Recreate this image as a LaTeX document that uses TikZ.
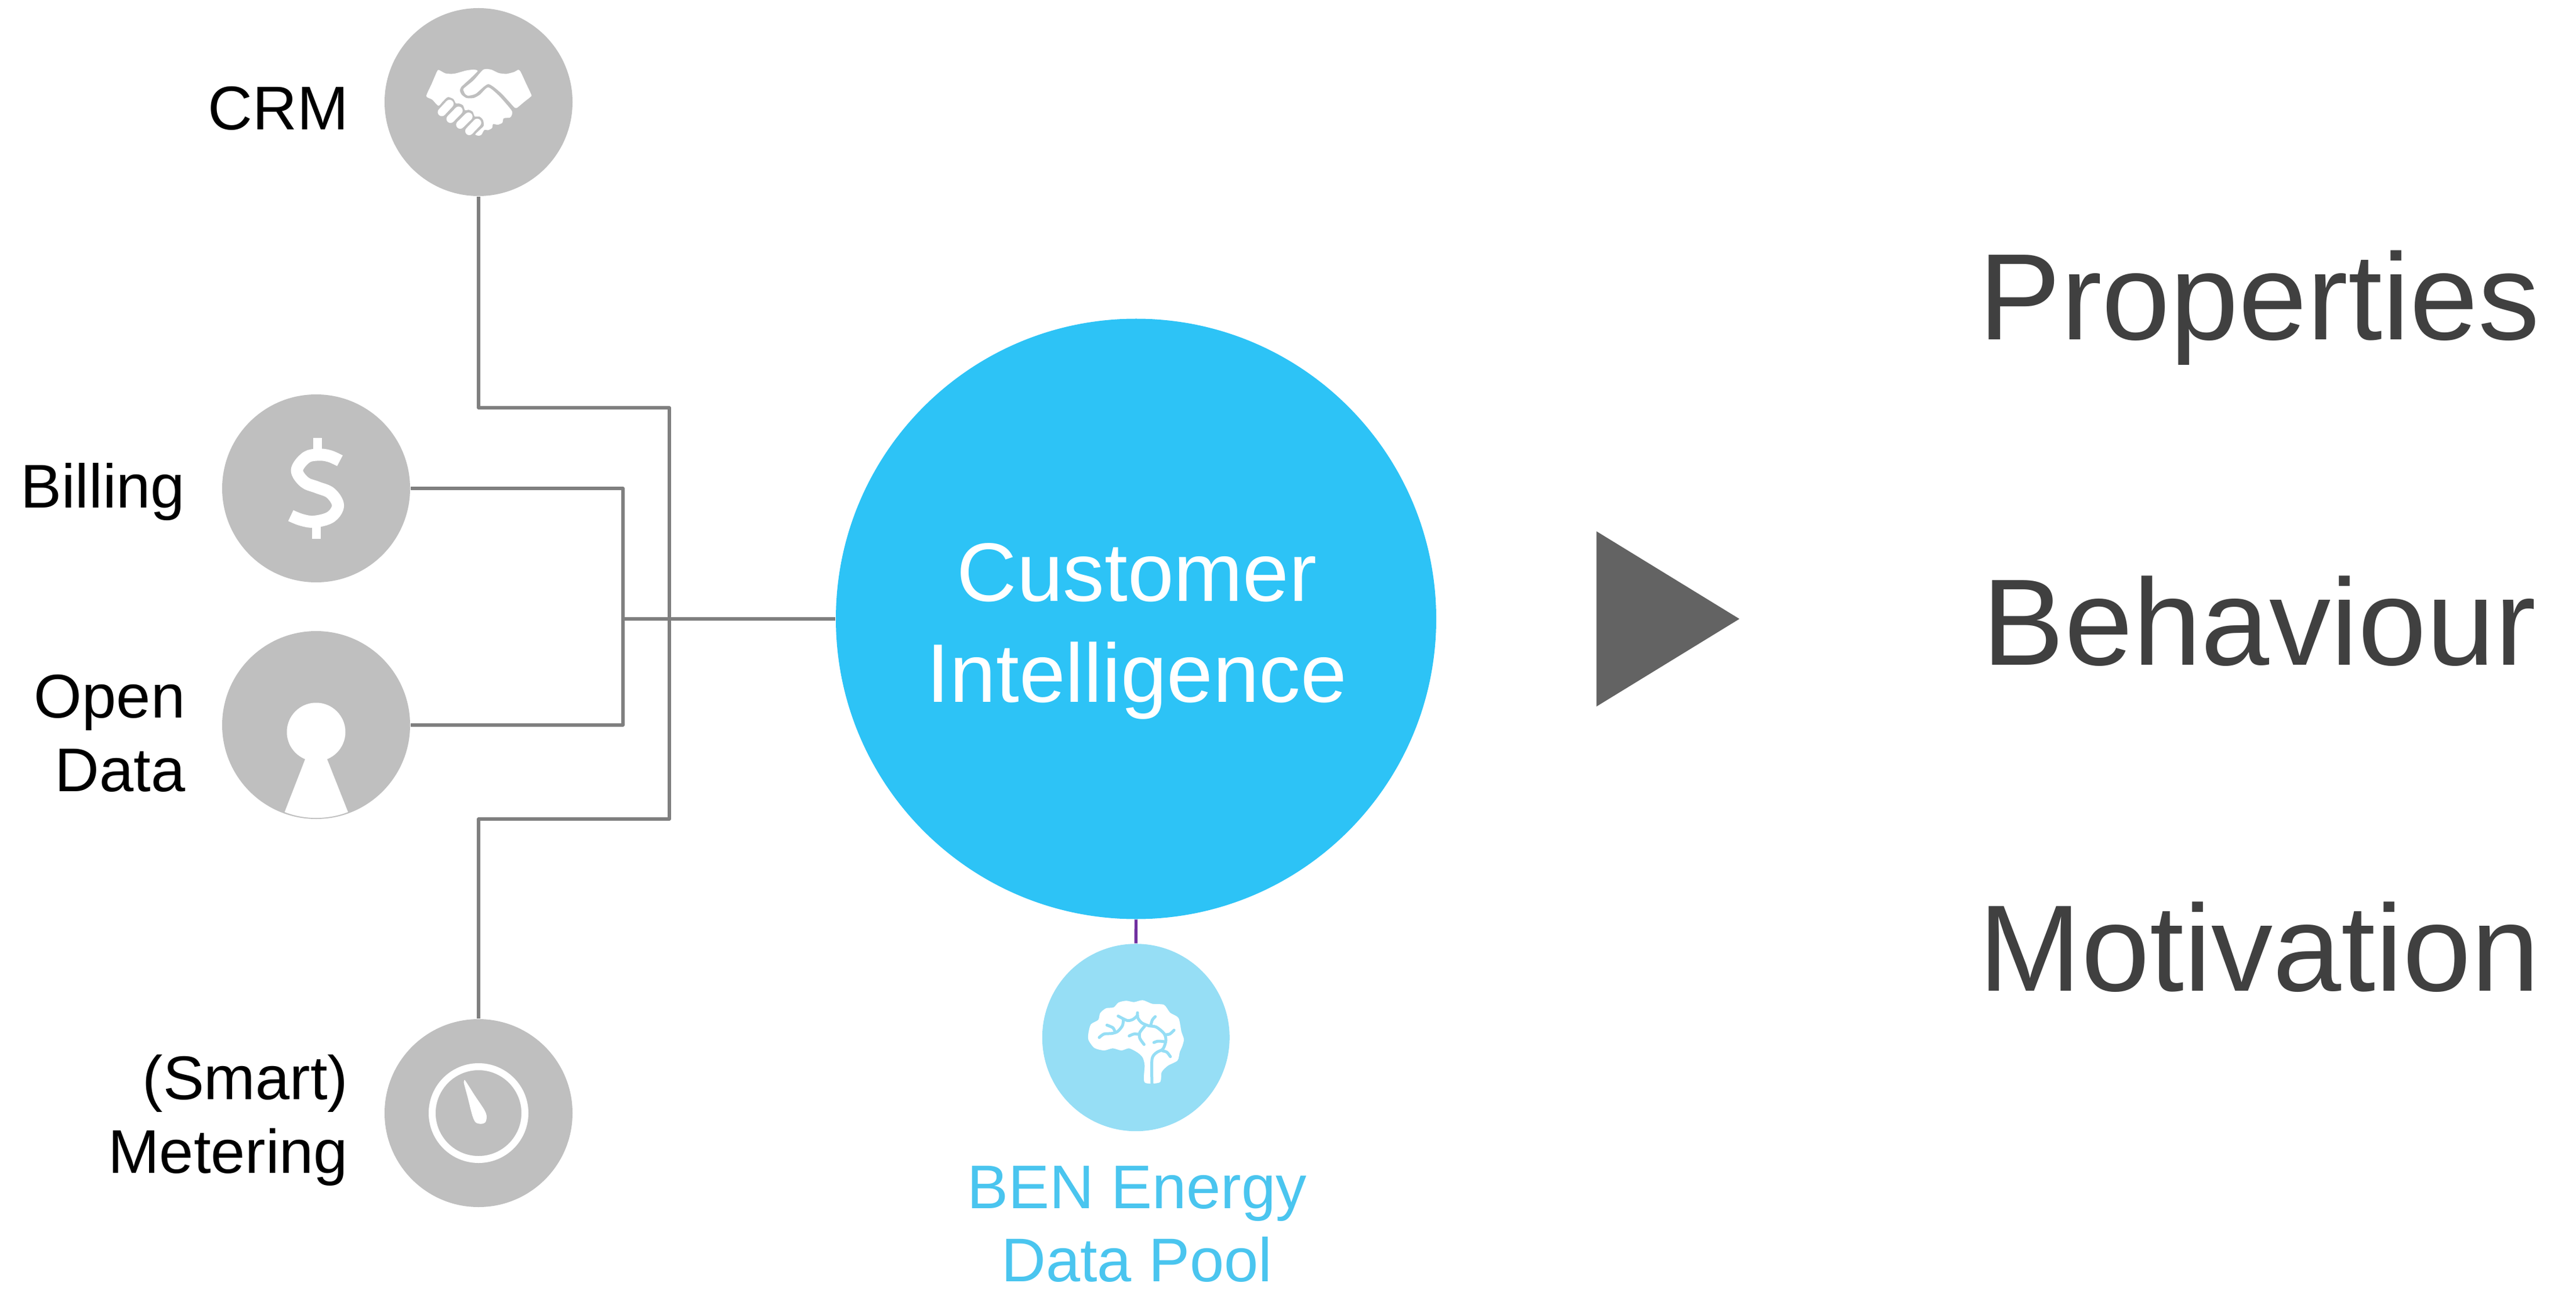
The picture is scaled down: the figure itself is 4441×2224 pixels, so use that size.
\documentclass[tikz,border=0pt]{standalone}
\usepackage{fontspec}
\setmainfont{Liberation Sans}
\definecolor{circgray}{HTML}{BFBFBF}
\definecolor{wiregray}{HTML}{7F7F7F}
\definecolor{bigblue}{HTML}{2DC3F6}
\definecolor{lightblue}{HTML}{96DEF5}
\definecolor{labelblue}{HTML}{4AC5EF}
\definecolor{purplewire}{HTML}{7030A0}
\definecolor{darktext}{HTML}{404040}
\definecolor{arrowgray}{HTML}{636363}
\tikzset{
  source/.style={circle,fill=circgray,draw=none,inner sep=0pt,minimum size=81pt},
  bigcircle/.style={circle,fill=bigblue,draw=none,inner sep=0pt,minimum size=258.75pt},
  poolcircle/.style={circle,fill=lightblue,draw=none,inner sep=0pt,minimum size=80.75pt},
  wire/.style={draw=wiregray,line width=1.35pt,line join=round},
  poolwire/.style={draw=purplewire,line width=1.35pt},
  lab/.style={inner sep=0pt,anchor=base east,align=right,text=black,font=\fontsize{26.6}{31.7}\selectfont},
  biglab/.style={inner sep=0pt,anchor=base,align=center,text=white,font=\fontsize{35.8}{43.3}\selectfont},
  poollab/.style={inner sep=0pt,anchor=base,align=center,text=labelblue,font=\fontsize{26.6}{31.4}\selectfont},
  outcome/.style={inner sep=0pt,anchor=base,text=darktext,font=\fontsize{53}{60}\selectfont},
  icon/.style={fill=white,draw=none},
  brainline/.style={draw=lightblue,line width=1.25pt,line cap=round,line join=round}
}
\begin{document}
\begin{tikzpicture}[x=0.25pt,y=-0.25pt]
\useasboundingbox (0,0) rectangle (4441,2224);

\node[source] (crm) at (825,176) {};
\node[source] (bill) at (545,842) {};
\node[source] (open) at (545,1250) {};
\node[source] (meter) at (825,1919) {};
\node[bigcircle] (big) at (1958.5,1067) {};
\node[poolcircle] (pool) at (1958.3,1788.7) {};

\coordinate (c1) at (825,703);
\coordinate (c2) at (1154,703);
\coordinate (c3) at (1154,1412);
\coordinate (c4) at (825,1412);
\coordinate (b1) at (1074,842);
\coordinate (b2) at (1074,1250);
\coordinate (hub) at (1074,1067);

\draw[wire] (crm.south) -- (c1) -- (c2) -- (c3) -- (c4) -- (meter.north);
\draw[wire] (bill.east) -- (b1) -- (b2) -- (open.east);
\draw[wire] (hub) -- (big.west);
\draw[poolwire] (big.south) -- (pool.north);

% labels
\node[lab] (lcrm) at (602,223.5) {CRM};
\node[lab] (lbill) at (320,875) {Billing};
\node[lab] (lopen) at (320,1364.5) {Open\\Data};
\node[lab] (lmeter) at (601,2022) {(Smart)\\Metering};
\node[biglab] (lbig) at (1960,1210) {Customer\\Intelligence};
\node[poollab] (lpool) at (1960,2209.5) {BEN Energy\\Data Pool};
\node[outcome] (o1) at (3895,586) {Properties};
\node[outcome] (o2) at (3895,1146) {Behaviour};
\node[outcome] (o3) at (3895,1708) {Motivation};

% arrow triangle
\fill[arrowgray] (2752.3,916) -- (2998.7,1067) -- (2752.3,1218) -- cycle;

% handshake
\begin{scope}[shift={(640,0)},scale=1/3]
\fill[icon] plot[smooth cycle,tension=.4] coordinates {
 (285,497)(312,435)(340,370)(350,362)(385,380)(430,381)(490,365)(530,360)(550,368)
 (508,410)(465,450)(459,470)(468,490)(492,507)(530,507)(562,490)(605,452)
 (660,495)(725,570)(728,592)(718,608)(685,612)(678,635)(655,645)(630,642)(625,662)(605,673)(585,672)
 (570,697)(555,702)(538,695)(560,673)(582,650)(578,620)(560,603)(535,602)(525,578)(505,568)(485,570)
 (475,545)(455,535)(438,535)(425,512)(400,502)(388,507)(368,527)(347,547)(315,515)};
\fill[icon] plot[smooth cycle,tension=.4] coordinates {
 (580,360)(620,360)(660,378)(700,382)(740,372)(760,361)(772,370)(800,430)(828,490)(825,500)
 (790,528)(755,557)(745,558)(735,550)(670,480)(605,435)(540,485)(500,495)(485,485)(478,470)(478,458)(530,415)};
\draw[white,line width=3.5pt,line cap=round] (405,537) -- (365,580);
\draw[white,line width=3.5pt,line cap=round] (452,572) -- (410,615);
\draw[white,line width=3.5pt,line cap=round] (503,603) -- (460,645);
\draw[white,line width=3.5pt,line cap=round] (548,635) -- (507,678);
\end{scope}

% dollar icon
\begin{scope}[shift={(360,670)},xscale=1/3,yscale=1/2.01]
\draw[white,line width=5.2pt] plot[smooth,tension=.6] coordinates {
 (678,250)(625,234)(570,229)(505,238)(456,282)(495,324)(560,342)(630,362)(668,405)(630,445)(545,461)(480,455)(424,440)};
\fill[icon] (540,170) rectangle (585,225);
\fill[icon] (535,465) rectangle (580,521);
\end{scope}

% keyhole
\fill[icon] (545,1262) circle[radius=50.5];
\fill[icon] (526,1309) -- (564,1309) -- (600,1400) .. controls (565,1413.5) and (525,1413.5) .. (490.7,1400) -- cycle;

% gauge
\draw[white,line width=3pt] (meter.center) circle[radius=80];
\begin{scope}[shift={(640,1750)},scale=1/3]
\fill[icon] plot[smooth cycle,tension=.5] coordinates {
 (480,342)(487,340)(535,415)(585,490)(597,525)(590,555)(568,563)(540,555)(523,520)(500,430)(480,355)};
\end{scope}

% brain
\begin{scope}[shift={(1780,1560)},scale=1/3]
\fill[icon] plot[smooth cycle,tension=.45] coordinates {
 (580,918)(580,830)(570,790)(545,765)(500,742)(460,753)(415,742)(370,753)(320,740)(290,700)(289,665)(302,618)(340,595)
 (350,560)(380,535)(420,530)(445,505)(485,496)(525,503)(570,493)(620,512)(680,517)(712,558)(755,585)(770,655)
 (783,695)(775,730)(762,760)(750,805)(700,832)(668,865)(658,918)};
\draw[brainline] plot[smooth,tension=.5] coordinates {(618,925)(618,800)(640,765)(675,745)(690,700)(680,665)(640,632)(600,625)(565,610)(545,585)(543,558)};
\draw[brainline] plot[smooth,tension=.5] coordinates {(345,686)(370,668)(410,665)(440,655)(465,625)(470,595)};
\draw[brainline] plot[smooth,tension=.5] coordinates {(443,575)(490,598)(520,592)(543,572)};
\draw[brainline] plot[smooth,tension=.5] coordinates {(385,622)(415,635)(425,652)};
\draw[brainline] plot[smooth,tension=.5] coordinates {(500,678)(525,668)(553,670)};
\draw[brainline] plot[smooth,tension=.5] coordinates {(580,628)(555,660)(555,690)(577,722)};
\draw[brainline] plot[smooth,tension=.5] coordinates {(612,622)(620,595)(635,578)};
\draw[brainline] plot[smooth,tension=.5] coordinates {(684,672)(710,668)(732,648)};
\draw[brainline] plot[smooth,tension=.5] coordinates {(628,712)(650,705)(685,708)};
\draw[brainline] plot[smooth,tension=.5] coordinates {(672,755)(695,762)(713,785)};
\end{scope}
\end{tikzpicture}
\end{document}
